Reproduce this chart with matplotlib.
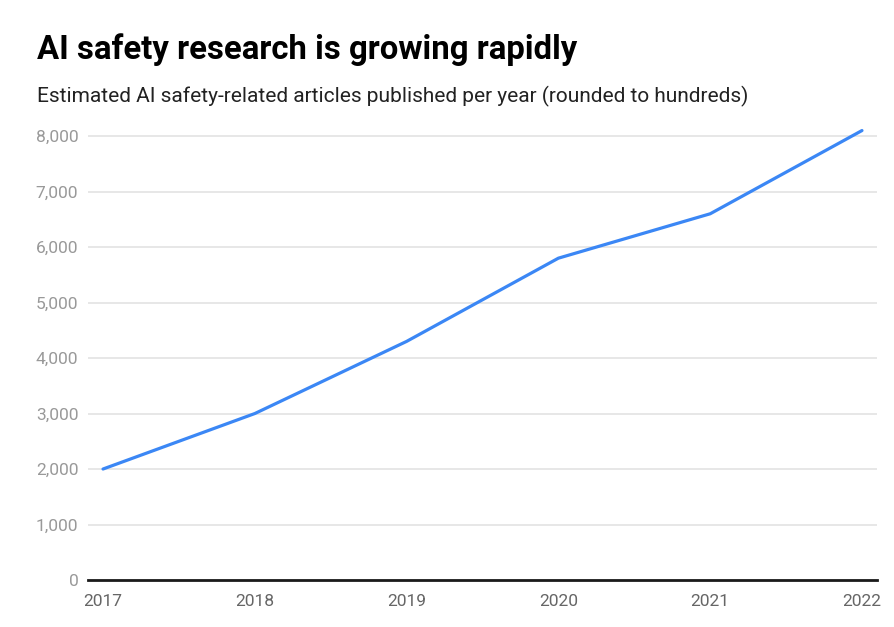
import matplotlib.pyplot as plt
from matplotlib.ticker import FuncFormatter

plt.rcParams['font.family'] = ['Roboto', 'DejaVu Sans']

# estimated AI safety-related articles per year (rounded to hundreds)
years = [2017, 2018, 2019, 2020, 2021, 2022]
articles = [2000, 3000, 4300, 5800, 6600, 8100]
yticks = [0, 1000, 2000, 3000, 4000, 5000, 6000, 7000, 8000]

W, H = 894, 627
fig = plt.figure(figsize=(W / 100, H / 100), dpi=100)
ax = fig.add_axes([88 / W, 47 / H, 789 / W, 455 / H])

ax.plot(years, articles, color='#3b87f5', linewidth=2.3, solid_capstyle='round')

ax.set_xlim(2016.901, 2022.099)
ax.set_ylim(0, 8200)
ax.set_yticks(yticks)
ax.yaxis.set_major_formatter(FuncFormatter(lambda v, p: f'{int(v):,}'))
ax.set_xticks(years)
ax.set_xticklabels([str(y) for y in years])

ax.grid(axis='y', color='#e3e3e3', linewidth=1.2)
ax.set_axisbelow(True)
for s in ['top', 'right', 'left']:
    ax.spines[s].set_visible(False)
ax.spines['bottom'].set_color('#1a1a1a')
ax.spines['bottom'].set_linewidth(2)
ax.spines['bottom'].set_zorder(5)

ax.tick_params(axis='y', length=0, pad=7, labelsize=12.5, labelcolor='#999999')
ax.tick_params(axis='x', length=0, pad=10, labelsize=12.5, labelcolor='#666666')

fig.text(37 / W, 1 - 59 / H, 'AI safety research is growing rapidly',
         fontsize=23.7, fontweight='bold', color='#000000', va='baseline')
fig.text(37 / W, 1 - 102 / H,
         'Estimated AI safety-related articles published per year (rounded to hundreds)',
         fontsize=15, color='#222222', va='baseline')

fig.savefig('out.png', dpi=100)
